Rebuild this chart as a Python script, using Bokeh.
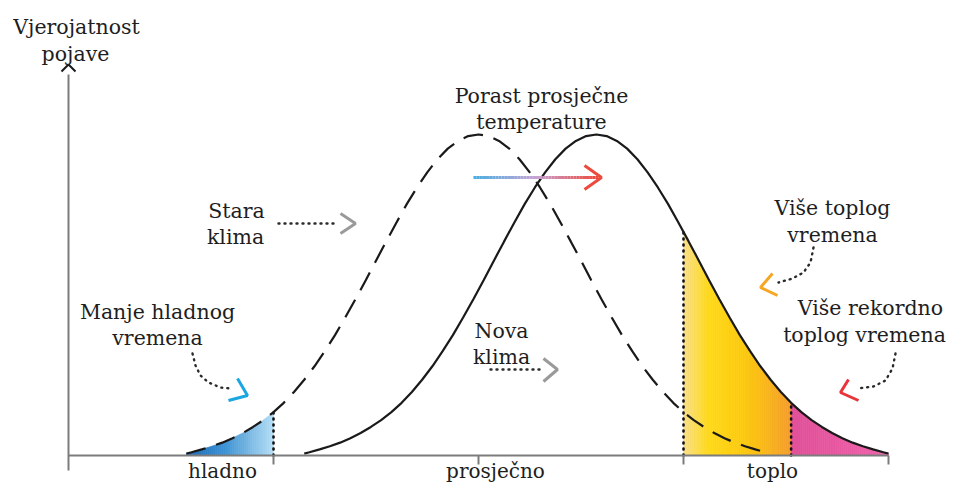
import numpy as np
from bokeh.plotting import figure
from bokeh.models import Range1d
from bokeh.core.properties import value
from bokeh.embed import file_html
from bokeh.resources import INLINE

# ---------------- data ----------------
# half profile of the bell curve: distance from the mean (std units) and relative probability
profile_offset = [0.0, 0.1, 0.2, 0.3, 0.4, 0.5, 0.6, 0.7, 0.8, 0.9, 1.0, 1.1, 1.2, 1.3, 1.4,
                  1.5, 1.6, 1.7, 1.8, 1.9, 2.0, 2.1, 2.2, 2.3, 2.4, 2.5, 2.6, 2.7, 2.8, 2.85]
profile_height = [1.000, 0.995, 0.980, 0.956, 0.923, 0.882, 0.835, 0.783, 0.726, 0.667, 0.607,
                  0.546, 0.487, 0.430, 0.375, 0.325, 0.278, 0.236, 0.198, 0.164, 0.135, 0.110,
                  0.089, 0.070, 0.054, 0.040, 0.029, 0.019, 0.010, 0.006]
old_mean = 0.0      # "Stara klima"
new_mean = 1.15     # "Nova klima"
spread = 1.0

tick_positions = [-4.0, -2.0, 0.0, 2.0, 4.0]
tick_labels = ["hladno", "prosječno", "toplo"]
cold_limit = -2.0
warm_limit = 2.0
record_limit = 3.05
axis_top = 1.187

# ---------------- pixel helpers for annotation placement ----------------
PX0, PXS, PY0, PYS = 478.0, 102.5, 455.0, 321.0
W, H = 949, 483


def X(px):
    return (px - PX0) / PXS


def Y(py):
    return (PY0 - py) / PYS


def curve(mean):
    xs = [mean - o * spread for o in reversed(profile_offset)] + [mean + o * spread for o in profile_offset[1:]]
    ys = list(reversed(profile_height)) + profile_height[1:]
    return xs, ys


old_x, old_y = curve(old_mean)
new_x, new_y = curve(new_mean)


def hex2rgb(h):
    h = h.lstrip("#")
    return np.array([int(h[i:i + 2], 16) for i in (0, 2, 4)], dtype=float)


def color_at(stops, t):
    t = min(max(t, 0.0), 1.0)
    for (p0, c0), (p1, c1) in zip(stops[:-1], stops[1:]):
        if p0 <= t <= p1:
            f = 0 if p1 == p0 else (t - p0) / (p1 - p0)
            c = hex2rgb(c0) * (1 - f) + hex2rgb(c1) * f
            return "#%02x%02x%02x" % tuple(int(round(v)) for v in c)
    return stops[-1][1]


p = figure(width=W, height=H, output_backend="svg", toolbar_location=None,
           x_range=Range1d(X(0), X(W)), y_range=Range1d(Y(H), Y(0)),
           min_border=0, x_axis_location=None, y_axis_location=None)
p.grid.visible = False
p.outline_line_color = None
p.background_fill_color = "white"
p.border_fill_color = "white"


def gradient_fill(cx, cy, a, b, stops, n):
    edges = np.linspace(a, b, n + 1)
    xs, ys, cols = [], [], []
    for i in range(n):
        x0, x1 = edges[i], edges[i + 1]
        sub = [x0] + [x for x in cx if x0 < x < x1] + [x1]
        top = list(np.interp(sub, cx, cy))
        xs.append(sub + [x1, x0])
        ys.append(top + [0.0, 0.0])
        cols.append(color_at(stops, (0.5 * (x0 + x1) - a) / (b - a)))
    p.patches(xs, ys, fill_color=cols, line_color=cols, line_width=0.7)


blue_stops = [(0.0, "#1c6ab5"), (0.45, "#3e93d4"), (1.0, "#b5def4")]
yellow_stops = [(0.0, "#f8df8c"), (0.25, "#ffd916"), (0.55, "#fdca0c"), (0.8, "#f8b31f"), (1.0, "#f39c2e")]
pink_stops = [(0.0, "#e14f99"), (1.0, "#ee63ab")]

gradient_fill(old_x, old_y, old_x[0], cold_limit, blue_stops, 45)
gradient_fill(new_x, new_y, warm_limit, record_limit, yellow_stops, 55)
gradient_fill(new_x, new_y, record_limit, new_x[-1], pink_stops, 50)

# dotted threshold lines
dot_x = [cold_limit, warm_limit, record_limit]
dot_top = [float(np.interp(cold_limit, old_x, old_y)),
           float(np.interp(warm_limit, new_x, new_y)),
           float(np.interp(record_limit, new_x, new_y))]
p.segment(x0=dot_x, y0=[0, 0, 0], x1=dot_x, y1=dot_top, line_color="#111111",
          line_width=2.6, line_dash="1 5", line_cap="round")

# curves
p.line(old_x, old_y, line_color="#1a1a1a", line_width=2.2, line_dash="20 11")
p.line(new_x, new_y, line_color="#1a1a1a", line_width=2.2)

# axes
axis_col = "#7c7c7c"
p.segment(x0=[tick_positions[0]], y0=[0], x1=[tick_positions[-1]], y1=[0], line_color=axis_col, line_width=2)
p.segment(x0=[tick_positions[0]], y0=[Y(470)], x1=[tick_positions[0]], y1=[axis_top], line_color=axis_col, line_width=2)
p.segment(x0=tick_positions[1:], y0=[0] * 4, x1=tick_positions[1:], y1=[Y(464)] * 4, line_color=axis_col, line_width=2)
p.line([X(61), X(68), X(75)], [Y(71), Y(64), Y(71)], line_color="#1a1a1a", line_width=2)

# warming arrow with colour gradient
arr_stops = [(0.0, "#4aaee2"), (0.5, "#c7a3d4"), (1.0, "#ec4a3c")]
ax_edges = np.linspace(X(473), X(598), 41)
p.segment(x0=ax_edges[:-1], y0=[Y(177)] * 40, x1=ax_edges[1:], y1=[Y(177)] * 40,
          line_color=[color_at(arr_stops, i / 39) for i in range(40)], line_width=3)
p.line([X(584), X(601), X(584)], [Y(165), Y(177), Y(189)], line_color="#ec4a3c", line_width=3)

# dotted pointer lines
dots = "1 5"
dot_w = 2.4
p.line([X(278), X(337)], [Y(223), Y(223)], line_color="#2a2a2a", line_width=dot_w, line_dash=dots, line_cap="round")
p.line([X(490), X(543)], [Y(369), Y(369)], line_color="#2a2a2a", line_width=dot_w, line_dash=dots, line_cap="round")
p.line([X(v) for v in (192, 195, 200, 208, 220, 230)], [Y(v) for v in (353, 365, 375, 382, 387, 388)],
       line_color="#2a2a2a", line_width=dot_w, line_dash=dots, line_cap="round")
p.line([X(v) for v in (813, 810, 803, 792, 778)], [Y(v) for v in (247, 262, 272, 278, 282)],
       line_color="#2a2a2a", line_width=dot_w, line_dash=dots, line_cap="round")
p.line([X(v) for v in (895, 892, 885, 873, 857)], [Y(v) for v in (353, 368, 380, 386, 388)],
       line_color="#2a2a2a", line_width=dot_w, line_dash=dots, line_cap="round")

# chevrons
p.line([X(340), X(355), X(340)], [Y(213), Y(223), Y(233)], line_color="#9a9a9a", line_width=3)
p.line([X(543), X(557), X(543)], [Y(358), Y(369), Y(381)], line_color="#9a9a9a", line_width=3)
p.line([X(237), X(247), X(228)], [Y(378), Y(395), Y(400)], line_color="#1aa6e0", line_width=3)
p.line([X(772), X(760), X(777)], [Y(273), Y(287), Y(295)], line_color="#f5a623", line_width=3)
p.line([X(848), X(840), X(858)], [Y(379), Y(392), Y(400)], line_color="#e8343a", line_width=3)

# texts
font = value("DejaVu Serif")
labels = [
    ("Vjerojatnost", 76, 26), ("pojave", 75, 53),
    ("Porast prosječne", 541, 95), ("temperature", 541, 121),
    ("Stara", 236, 210), ("klima", 235, 236),
    ("Nova", 501, 330), ("klima", 501, 356),
    ("Manje hladnog", 157, 311), ("vremena", 157, 337),
    ("Više toplog", 832, 207), ("vremena", 832, 234),
    ("Više rekordno", 870, 307), ("toplog vremena", 864, 334),
]
p.text(x=[X(l[1]) for l in labels], y=[Y(l[2]) for l in labels], text=[l[0] for l in labels],
       text_font=font, text_font_size="20.5px", text_align="center", text_baseline="middle",
       text_color="#1e1e1e")

tick_label_x = [X(222), X(495), X(772)]
p.text(x=tick_label_x, y=[Y(470)] * 3, text=tick_labels, text_font=font, text_font_size="20px",
       text_align="center", text_baseline="middle", text_color="#1e1e1e")

open("out.html", "w").write(file_html(p, INLINE))
